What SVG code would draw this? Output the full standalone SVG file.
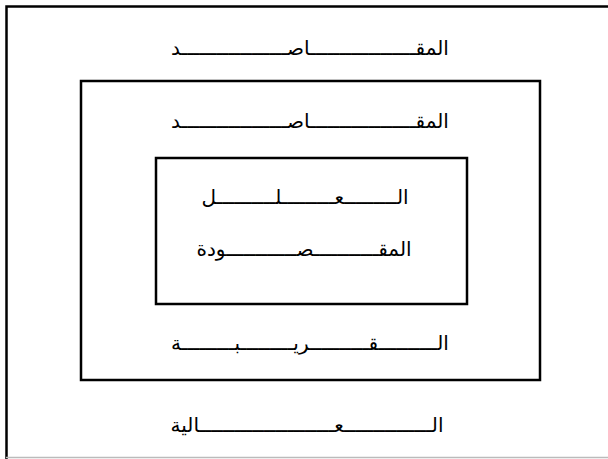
<svg xmlns="http://www.w3.org/2000/svg" width="608" height="459" viewBox="0 0 608 459">
<style>
.t{font-family:"DejaVu Sans",sans-serif;font-size:20px;fill:#000;text-anchor:middle;direction:rtl}
.box{fill:none;stroke:#000;stroke-width:2.5}
</style>
<rect width="608" height="459" fill="#fff"/>
<g id="outer">
<path d="M6.5,459 V6.5 H608" class="box"/>
<line x1="6" y1="457.5" x2="608" y2="457.5" stroke="#bbb" stroke-width="1.5"/>
<text class="t" x="310" y="55">المق&#x640;&#x640;&#x640;&#x640;&#x640;&#x640;&#x640;&#x640;&#x640;&#x640;&#x640;&#x640;&#x640;&#x640;&#x640;&#x640;&#x640;&#x640;اص&#x640;&#x640;&#x640;&#x640;&#x640;&#x640;&#x640;&#x640;&#x640;&#x640;&#x640;&#x640;&#x640;&#x640;&#x640;&#x640;&#x640;&#x640;د</text>
<text class="t" x="307" y="432">ال&#x640;&#x640;&#x640;&#x640;&#x640;&#x640;&#x640;&#x640;&#x640;&#x640;&#x640;&#x640;&#x640;&#x640;&#x640;ع&#x640;&#x640;&#x640;&#x640;&#x640;&#x640;&#x640;&#x640;&#x640;&#x640;&#x640;&#x640;&#x640;&#x640;&#x640;&#x640;&#x640;&#x640;&#x640;&#x640;&#x640;&#x640;&#x640;الية</text>
</g>
<g id="middle">
<rect class="box" x="81" y="81" width="459" height="299"/>
<text class="t" x="310" y="128">المق&#x640;&#x640;&#x640;&#x640;&#x640;&#x640;&#x640;&#x640;&#x640;&#x640;&#x640;&#x640;&#x640;&#x640;&#x640;&#x640;&#x640;&#x640;اص&#x640;&#x640;&#x640;&#x640;&#x640;&#x640;&#x640;&#x640;&#x640;&#x640;&#x640;&#x640;&#x640;&#x640;&#x640;&#x640;&#x640;&#x640;د</text>
<text class="t" x="310" y="350">ال&#x640;&#x640;&#x640;&#x640;&#x640;&#x640;&#x640;&#x640;&#x640;&#x640;ق&#x640;&#x640;&#x640;&#x640;&#x640;&#x640;&#x640;&#x640;&#x640;&#x640;ري&#x640;&#x640;&#x640;&#x640;&#x640;&#x640;&#x640;&#x640;&#x640;ب&#x640;&#x640;&#x640;&#x640;&#x640;&#x640;&#x640;&#x640;&#x640;ة</text>
</g>
<g id="inner">
<rect class="box" x="156" y="158" width="311" height="146"/>
<text class="t" x="305" y="204">ال&#x640;&#x640;&#x640;&#x640;&#x640;&#x640;&#x640;&#x640;&#x640;ع&#x640;&#x640;&#x640;&#x640;&#x640;&#x640;&#x640;&#x640;&#x640;ل&#x640;&#x640;&#x640;&#x640;&#x640;&#x640;&#x640;&#x640;&#x640;&#x640;ل</text>
<text class="t" x="304" y="256">المق&#x640;&#x640;&#x640;&#x640;&#x640;&#x640;&#x640;&#x640;&#x640;&#x640;&#x640;ص&#x640;&#x640;&#x640;&#x640;&#x640;&#x640;&#x640;&#x640;&#x640;&#x640;&#x640;&#x640;ودة</text>
</g>
<g id="connectors"></g>
</svg>
